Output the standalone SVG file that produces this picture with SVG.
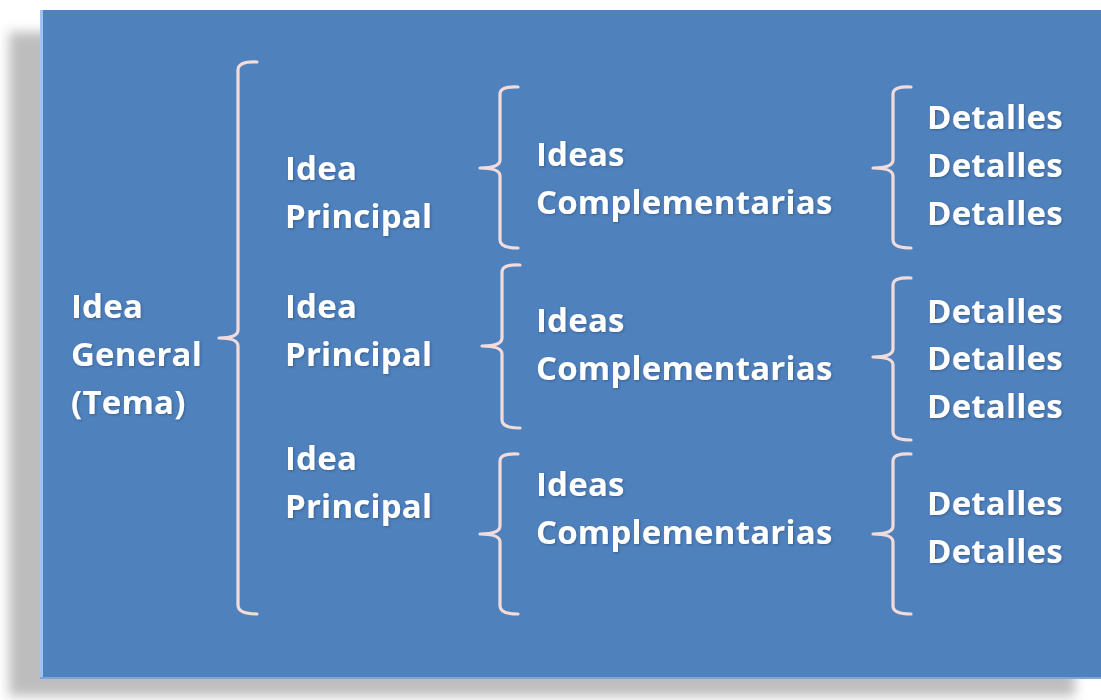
<svg xmlns="http://www.w3.org/2000/svg" width="1101" height="700" viewBox="0 0 1101 700">
<style>
.br{fill:none;stroke:#f2dcdb;stroke-width:3.2;stroke-linecap:round;stroke-linejoin:round}
.t{font-family:"Open Sans","Liberation Sans",sans-serif;font-weight:bold;font-size:33px;letter-spacing:0.2px;fill:#ffffff}
</style>
<defs>
<filter id="sh" x="-5%" y="-5%" width="110%" height="110%"><feGaussianBlur stdDeviation="6"/></filter>
<filter id="ts" x="-10%" y="-20%" width="120%" height="140%"><feDropShadow dx="1" dy="1" stdDeviation="0.8" flood-color="#1f3a60" flood-opacity="0.5"/></filter>
</defs>
<rect width="1101" height="700" fill="#ffffff"/>
<rect x="9" y="32" width="1066" height="664" fill="#bdbdbd" filter="url(#sh)"/>
<rect x="40" y="10" width="1070" height="669" fill="#4f81bd"/>
<rect x="40" y="10" width="3" height="669" fill="#9dc3f2"/>
<rect x="40" y="677" width="1070" height="2" fill="#7fa4d6"/>
<g id="connectors">
<path class="br" d="M257,62 Q238,61 238,70 V330 Q238,338 219,338 Q238,338 238,346 V605 Q238,614 257,614"/>
<path class="br" d="M518,87 Q500,86 500,94 V160 Q500,168 480,168 Q500,168 500,176 V240 Q500,248 518,248"/>
<path class="br" d="M520,265 Q502,264 502,272 V338 Q502,346 482,346 Q502,346 502,354 V420 Q502,428 520,428"/>
<path class="br" d="M518,454 Q500,453 500,461 V526 Q500,534 480,534 Q500,534 500,542 V606 Q500,614 518,614"/>
<path class="br" d="M911,87 Q893,86 893,94 V160 Q893,168 873,168 Q893,168 893,176 V240 Q893,248 911,248"/>
<path class="br" d="M911,278 Q893,277 893,285 V349 Q893,357 873,357 Q893,357 893,365 V432 Q893,440 911,440"/>
<path class="br" d="M911,454 Q893,453 893,461 V526 Q893,534 873,534 Q893,534 893,542 V606 Q893,614 911,614"/>
</g>
<g id="tema" class="t" filter="url(#ts)">
<text x="71" y="318">Idea</text><text x="71" y="366">General</text><text x="71" y="414">(Tema)</text>
</g>
<g id="principal1" class="t" filter="url(#ts)"><text x="285" y="180">Idea</text><text x="285" y="228">Principal</text></g>
<g id="principal2" class="t" filter="url(#ts)"><text x="285" y="318">Idea</text><text x="285" y="366">Principal</text></g>
<g id="principal3" class="t" filter="url(#ts)"><text x="285" y="470">Idea</text><text x="285" y="518">Principal</text></g>
<g id="comp1" class="t" filter="url(#ts)"><text x="536" y="166">Ideas</text><text x="536" y="214">Complementarias</text></g>
<g id="comp2" class="t" filter="url(#ts)"><text x="536" y="332">Ideas</text><text x="536" y="380">Complementarias</text></g>
<g id="comp3" class="t" filter="url(#ts)"><text x="536" y="496">Ideas</text><text x="536" y="544">Complementarias</text></g>
<g id="detalles1" class="t" filter="url(#ts)"><text x="927" y="129">Detalles</text><text x="927" y="177">Detalles</text><text x="927" y="225">Detalles</text></g>
<g id="detalles2" class="t" filter="url(#ts)"><text x="927" y="323">Detalles</text><text x="927" y="370">Detalles</text><text x="927" y="418">Detalles</text></g>
<g id="detalles3" class="t" filter="url(#ts)"><text x="927" y="515">Detalles</text><text x="927" y="563">Detalles</text></g>
</svg>
